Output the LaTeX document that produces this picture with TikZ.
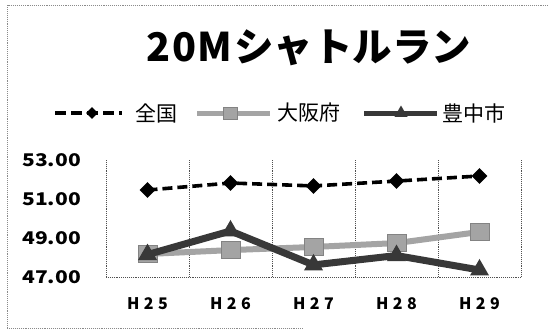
\documentclass[tikz,border=0pt]{standalone}
\usepackage{fontspec}
\setmainfont{Noto Sans CJK JP}
\usetikzlibrary{shapes.geometric}
\definecolor{osaka}{HTML}{A4A4A4}
\definecolor{toyo}{HTML}{383838}
\definecolor{framec}{HTML}{8A8A8A}
\definecolor{gridc}{HTML}{505050}
\tikzset{
  zline/.style={line width=3.6pt, dash pattern=on 10pt off 5pt, black},
  oline/.style={line width=6pt, osaka},
  tline/.style={line width=7pt, toyo},
  zmark/.style={diamond, fill=black, minimum width=16pt, minimum height=16pt, inner sep=0pt},
  omark/.style={rectangle, fill=osaka, draw=osaka!80!black, line width=0.4pt, minimum width=19pt, minimum height=17pt, inner sep=0pt},
  tmark/.style={regular polygon, regular polygon sides=3, fill=toyo, minimum size=22pt, inner sep=0pt},
  gridl/.style={gridc, densely dotted, line width=0.9pt},
  framel/.style={framec, densely dotted, line width=0.9pt},
  ylab/.style={anchor=east, inner sep=0pt, font=\fontsize{17.5}{17.5}\selectfont\bfseries},
  xlab/.style={anchor=center, inner sep=0pt, font=\fontsize{16}{16}\selectfont\bfseries},
  leglab/.style={anchor=west, inner sep=0pt, font=\fontsize{21}{21}\selectfont},
}
\begin{document}
\begin{tikzpicture}[x=1pt, y=-1pt]
\useasboundingbox (0,0) rectangle (548,329);
\fill[white] (0,0) rectangle (548,329);
% frame
\coordinate (f1) at (548,5);
\coordinate (f2) at (7,5);
\coordinate (f3) at (7,328);
\coordinate (f4) at (303,328);
\draw[framel] (f1) -- (f2) -- (f3) -- (f4);
% title
\node[anchor=base, inner sep=0pt, font=\fontsize{39.5}{39.5}\selectfont\bfseries] (title) at (309,62) {2\hspace{1.5pt}0\hspace{1.5pt}M\hspace{1.5pt}シャトルラン};
% legend
\coordinate (lz1) at (55,113); \coordinate (lz2) at (122,113);
\draw[line width=3.6pt, dash pattern=on 11pt off 5pt] (lz1) -- (lz2);
\node[zmark, minimum width=12pt, minimum height=12pt] (lzm) at (92,113) {};
\node[leglab] (lzt) at (135,113) {全国};
\coordinate (lo1) at (197,113); \coordinate (lo2) at (270,113);
\draw[line width=5pt, osaka] (lo1) -- (lo2);
\node[omark, minimum width=14pt, minimum height=12pt] (lom) at (230,113) {};
\node[leglab] (lot) at (277,113) {大阪府};
\coordinate (lt1) at (364,113); \coordinate (lt2) at (437,113);
\draw[line width=5pt, toyo] (lt1) -- (lt2);
\node[tmark, minimum size=15pt] (ltm) at (401,113) {};
\node[leglab] (ltt) at (442,113) {豊中市};
% grid
\foreach \i/\x in {0/106,1/189,2/272,3/355,4/438,5/521}{
  \coordinate (gt\i) at (\x,160);
  \coordinate (gb\i) at (\x,277);
  \draw[gridl] (gt\i) -- (gb\i);
}
\draw[gridl] (gb0) -- (gb5);
% y labels
\foreach \v/\t in {47/47.00,49/49.00,51/51.00,53/53.00}{
  \node[ylab] (y\v) at (81,{277-(\v-47)*19.5}) {\scalebox{1.2}[1]{\t}};
}
% x labels
\foreach \i/\t in {1/H\hspace{4.5pt}2\hspace{4.5pt}5,2/H\hspace{4.5pt}2\hspace{4.5pt}6,3/H\hspace{4.5pt}2\hspace{4.5pt}7,4/H\hspace{4.5pt}2\hspace{4.5pt}8,5/H\hspace{4.5pt}2\hspace{4.5pt}9}{
  \node[xlab] (x\i) at ({147.5+83*(\i-1)},303.5) {\t};
}
% data coordinates
\foreach \i/\a/\b/\c in {1/51.46/48.18/48.15,2/51.82/48.38/49.36,3/51.67/48.54/47.62,4/51.92/48.74/48.10,5/52.18/49.31/47.36}{
  \coordinate (z\i) at ({147.5+83*(\i-1)},{277-(\a-47)*19.5});
  \coordinate (o\i) at ({147.5+83*(\i-1)},{277-(\b-47)*19.5});
  \coordinate (t\i) at ({147.5+83*(\i-1)},{277-(\c-47)*19.5});
}
% series 全国
\draw[zline] (z1) -- (z2) -- (z3) -- (z4) -- (z5);
\foreach \i in {1,...,5}{\node[zmark] (zm\i) at (z\i) {};}
% series 大阪府
\draw[oline, line join=round] (o1) -- (o2) -- (o3) -- (o4) -- (o5);
\foreach \i in {1,...,5}{\node[omark] (om\i) at (o\i) {};}
% series 豊中市
\draw[tline, line join=round] (t1) -- (t2) -- (t3) -- (t4) -- (t5);
\foreach \i in {1,...,5}{\node[tmark] (tm\i) at (t\i) {};}
\end{tikzpicture}
\end{document}
